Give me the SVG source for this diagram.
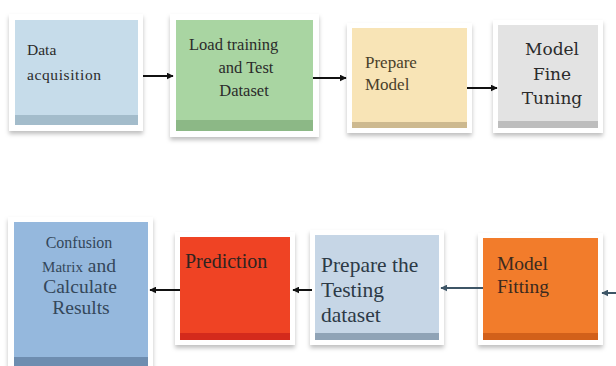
<svg xmlns="http://www.w3.org/2000/svg" width="616" height="366" viewBox="0 0 616 366">
<defs>
<filter id="sh" x="-10%" y="-10%" width="120%" height="125%">
<feDropShadow dx="0" dy="3" stdDeviation="2" flood-color="#000" flood-opacity="0.25"/>
</filter>
<marker id="ahk" viewBox="0 0 10 10" refX="9" refY="5" markerWidth="7" markerHeight="7" orient="auto" markerUnits="userSpaceOnUse">
<path d="M0,0 L10,5 L0,10 Z" fill="#111"/>
</marker>
<marker id="ahs" viewBox="0 0 10 10" refX="9" refY="5" markerWidth="7" markerHeight="7" orient="auto" markerUnits="userSpaceOnUse">
<path d="M0,0 L10,5 L0,10 Z" fill="#3d5566"/>
</marker>
</defs>
<style>
.frame{fill:#fff;filter:url(#sh)}
.k{stroke:#111;stroke-width:2;fill:none}
.s{stroke:#3d5566;stroke-width:2;fill:none}
</style>
<rect width="616" height="366" fill="#fff"/>

<g font-family="'Liberation Serif', 'DejaVu Serif', serif">
<g id="n1">
<rect class="frame" x="9" y="14" width="134" height="117"/>
<rect x="15" y="20" width="123" height="105" fill="#c6dcea"/>
<rect x="15" y="115" width="123" height="10" fill="#a3bccb"/>
<text font-size="15.5" x="27" y="55" fill="#2b2b2b">Data</text>
<text font-size="15.5" x="27" y="80" fill="#2b2b2b" letter-spacing="0.6">acquisition</text>
</g>

<g id="n2">
<rect class="frame" x="170" y="14" width="149" height="123"/>
<rect x="176" y="20" width="137" height="111" fill="#a9d5a2"/>
<rect x="176" y="120" width="137" height="11" fill="#8cb886"/>
<text font-size="16.5" x="189" y="50" fill="#2b2b2b">Load training</text>
<text font-size="16.5" x="246" y="73" text-anchor="middle" fill="#2b2b2b">and Test</text>
<text font-size="16.5" x="244" y="96" text-anchor="middle" fill="#2b2b2b">Dataset</text>
</g>

<g id="n3">
<rect class="frame" x="347" y="23" width="125" height="110"/>
<rect x="352" y="28" width="115" height="100" fill="#f8e4b6"/>
<rect x="352" y="122" width="115" height="6" fill="#cdb98f"/>
<text font-size="17" x="365" y="68" fill="#4a3f2a">Prepare</text>
<text font-size="17" x="365" y="90" fill="#4a3f2a">Model</text>
</g>

<g id="n4" font-family="'DejaVu Serif', serif">
<rect class="frame" x="493" y="20" width="110" height="113"/>
<rect x="498" y="25" width="100" height="103" fill="#e3e3e3"/>
<rect x="498" y="121" width="100" height="7" fill="#bdbdbd"/>
<text font-size="17" x="552" y="55" text-anchor="middle" fill="#2b2b2b">Model</text>
<text font-size="17" x="552" y="80" text-anchor="middle" fill="#2b2b2b">Fine</text>
<text font-size="17" x="552" y="104" text-anchor="middle" fill="#2b2b2b">Tuning</text>
</g>

<g id="n5">
<rect class="frame" x="8" y="217" width="145" height="152"/>
<rect x="14" y="222" width="134" height="144" fill="#95b8dd"/>
<rect x="14" y="357" width="134" height="9" fill="#6e8db0"/>
<text font-size="16" x="79" y="248" text-anchor="middle" fill="#34475a">Confusion</text>
<text x="79" y="272" text-anchor="middle" fill="#34475a"><tspan font-size="15">Matrix</tspan><tspan font-size="19.5"> and</tspan></text>
<text font-size="19.5" x="80" y="293" text-anchor="middle" fill="#34475a">Calculate</text>
<text font-size="19.5" x="81" y="314" text-anchor="middle" fill="#34475a">Results</text>
</g>

<g id="n6">
<rect class="frame" x="175" y="232" width="120" height="113"/>
<rect x="180" y="237" width="110" height="103" fill="#ef4324"/>
<rect x="180" y="333" width="110" height="7" fill="#d42a1c"/>
<text font-size="20" x="185" y="268" fill="#2e2420">Prediction</text>
</g>

<g id="n7">
<rect class="frame" x="310" y="230" width="134" height="115"/>
<rect x="315" y="235" width="124" height="105" fill="#c6d6e6"/>
<rect x="315" y="333" width="124" height="7" fill="#8fa3b6"/>
<text font-size="21.5" x="321" y="272" fill="#2d3a46">Prepare the</text>
<text font-size="21.5" x="321" y="297" fill="#2d3a46">Testing</text>
<text font-size="21.5" x="321" y="322" fill="#2d3a46">dataset</text>
</g>

<g id="n8">
<rect class="frame" x="478" y="233" width="125" height="112"/>
<rect x="483" y="238" width="115" height="102" fill="#f27c2b"/>
<rect x="483" y="333" width="115" height="7" fill="#d2601a"/>
<text font-size="19.5" x="497" y="270" fill="#3b2a1e">Model</text>
<text font-size="19.5" x="497" y="293" fill="#3b2a1e">Fitting</text>
</g>
</g>

<g id="connectors">
<line class="k" x1="143" y1="76" x2="173" y2="76" marker-end="url(#ahk)"/>
<line class="k" x1="313" y1="78" x2="346" y2="78" marker-end="url(#ahk)"/>
<line class="k" x1="467" y1="88" x2="497" y2="88" marker-end="url(#ahk)"/>
<line class="s" x1="616" y1="293" x2="602" y2="293" marker-end="url(#ahs)"/>
<line class="s" x1="483" y1="288" x2="441" y2="288" marker-end="url(#ahs)"/>
<line class="k" x1="312" y1="290" x2="293" y2="290" marker-end="url(#ahk)"/>
<line class="k" x1="180" y1="290" x2="150" y2="290" marker-end="url(#ahk)"/>
</g>
</svg>
